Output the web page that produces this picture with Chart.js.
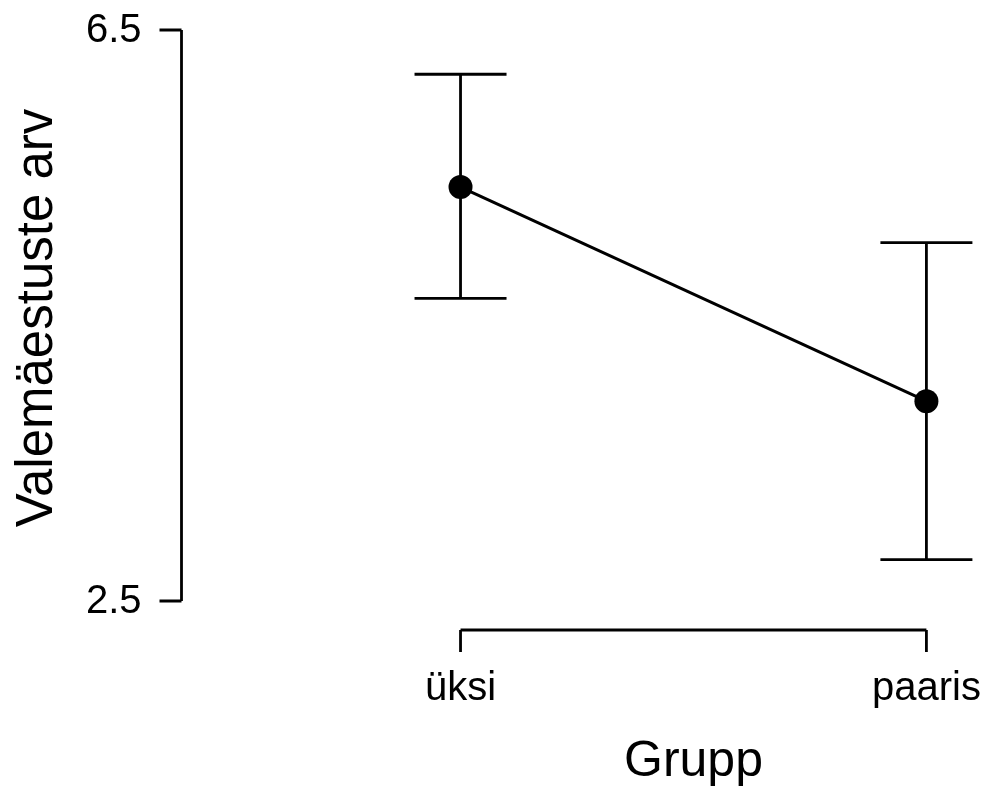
<!DOCTYPE html>
<html>
<head>
<meta charset="utf-8">
<script src="https://cdn.jsdelivr.net/npm/chart.js@4.4.1/dist/chart.umd.min.js"></script>
<style>
  html, body { margin: 0; padding: 0; background: #fff; }
  #wrap { width: 985px; height: 789px; }
</style>
</head>
<body>
<div id="wrap"><canvas id="chart" width="985" height="789"></canvas></div>
<script>
// data
const groups = ['üksi', 'paaris'];
const means = [5.40, 3.90];
const lower = [4.62, 2.79];
const upper = [6.19, 5.01];
const yTicks = [2.5, 6.5];
const xTitle = 'Grupp';
const yTitle = 'Valemäestuste arv';

const FONT = '"Liberation Sans", Arial, sans-serif';

// error bars + R style axes
const rAxes = {
  id: 'rAxes',
  beforeDatasetsDraw(chart) {
    const ctx = chart.ctx;
    const x = chart.scales.x, y = chart.scales.y;
    const area = chart.chartArea;
    ctx.save();
    ctx.strokeStyle = '#000';
    ctx.fillStyle = '#000';
    ctx.lineWidth = 2.8;

    // error bars
    groups.forEach((g, i) => {
      const px = x.getPixelForValue(i);
      const top = y.getPixelForValue(upper[i]);
      const bot = y.getPixelForValue(lower[i]);
      ctx.beginPath();
      ctx.moveTo(px, top); ctx.lineTo(px, bot);
      ctx.moveTo(px - 46, top); ctx.lineTo(px + 46, top);
      ctx.moveTo(px - 46, bot); ctx.lineTo(px + 46, bot);
      ctx.stroke();
    });

    // y axis
    const ax = area.left + 0.5;
    const y0 = y.getPixelForValue(yTicks[0]);
    const y1 = y.getPixelForValue(yTicks[yTicks.length - 1]);
    ctx.beginPath();
    ctx.moveTo(ax, y0); ctx.lineTo(ax, y1);
    yTicks.forEach(t => {
      const py = y.getPixelForValue(t);
      ctx.moveTo(ax, py); ctx.lineTo(ax - 22, py);
    });
    ctx.stroke();
    ctx.font = '40px ' + FONT;
    ctx.textAlign = 'right';
    ctx.textBaseline = 'middle';
    yTicks.forEach(t => {
      ctx.fillText(t.toFixed(1), ax - 40, y.getPixelForValue(t) + 1);
    });

    // x axis
    const ay = area.bottom + 29;
    const xa = x.getPixelForValue(0);
    const xb = x.getPixelForValue(groups.length - 1);
    ctx.beginPath();
    ctx.moveTo(xa, ay); ctx.lineTo(xb, ay);
    groups.forEach((g, i) => {
      const px = x.getPixelForValue(i);
      ctx.moveTo(px, ay); ctx.lineTo(px, ay + 22);
    });
    ctx.stroke();
    ctx.textAlign = 'center';
    ctx.textBaseline = 'alphabetic';
    groups.forEach((g, i) => {
      ctx.fillText(g, x.getPixelForValue(i), 700);
    });

    // titles
    ctx.font = '50px ' + FONT;
    ctx.fillText(xTitle, (xa + xb) / 2, 776);
    ctx.font = '51px ' + FONT;
    ctx.translate(52, 318);
    ctx.rotate(-Math.PI / 2);
    ctx.fillText(yTitle, 0, 0);
    ctx.restore();
  }
};

new Chart(document.getElementById('chart'), {
  type: 'line',
  data: {
    datasets: [{
      data: groups.map((g, i) => ({ x: i, y: means[i] })),
      borderColor: '#000',
      borderWidth: 3,
      pointRadius: 12,
      pointBackgroundColor: '#000',
      pointBorderColor: '#000',
      pointBorderWidth: 0,
      tension: 0
    }]
  },
  options: {
    responsive: false,
    animation: false,
    events: [],
    layout: { padding: { left: 181, right: 12, top: 30, bottom: 188 } },
    plugins: { legend: { display: false }, tooltip: { enabled: false } },
    scales: {
      x: { type: 'linear', min: -0.6, max: 1.1, display: false },
      y: { min: 2.5, max: 6.5, display: false }
    }
  },
  plugins: [rAxes]
});
</script>
</body>
</html>
